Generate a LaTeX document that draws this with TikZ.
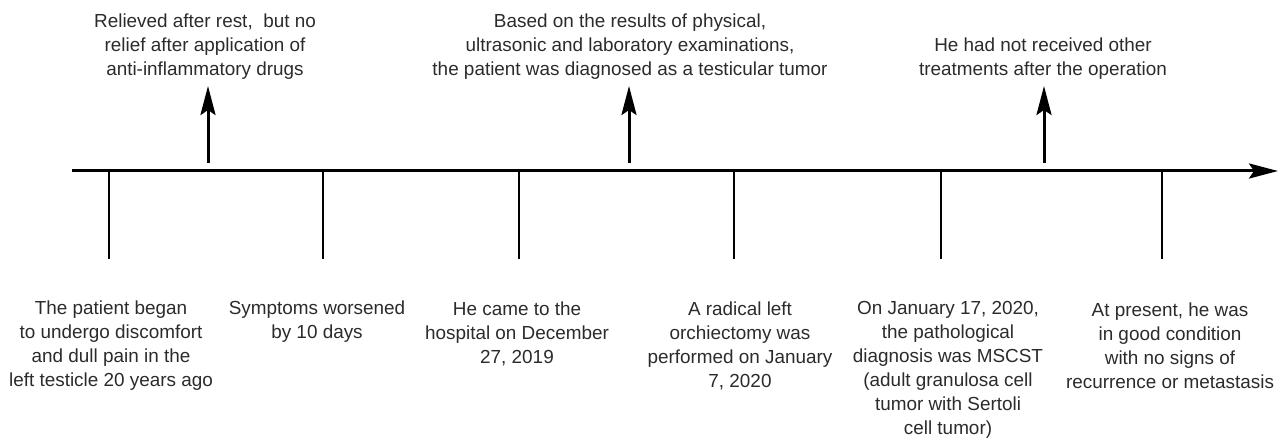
\documentclass[tikz,border=0pt]{standalone}
\usepackage{fontspec}
\setmainfont{Liberation Sans}
\usetikzlibrary{arrows.meta}
\definecolor{txt}{HTML}{2B2B2B}
\tikzset{
  lbl/.style={align=center, text=txt, inner sep=0pt, font=\fontsize{18.9}{24}\selectfont},
  tick/.style={line width=2pt, black},
  uparrow/.style={line width=3pt, black, -{Stealth[length=29pt, width=15pt, inset=5pt]}},
  axis/.style={line width=3pt, black, -{Stealth[length=29pt, width=15pt, inset=5pt]}}
}
\begin{document}
\begin{tikzpicture}[x=1pt, y=-1pt]
\useasboundingbox (0,0) rectangle (1285,438);
% axis
\coordinate (a0) at (72,171);
\coordinate (a1) at (1278,171);
\draw[axis] (a0) -- (a1);
% ticks
\foreach \n/\x in {1/109, 2/323, 3/519, 4/734, 5/941, 6/1162}{
  \coordinate (t\n) at (\x,171);
  \coordinate (b\n) at (\x,259);
  \draw[tick] (t\n) -- (b\n);
}
% up arrows
\foreach \n/\x in {1/208, 2/629, 3/1044}{
  \coordinate (u\n) at (\x,163);
  \coordinate (v\n) at (\x,86);
  \draw[uparrow] (u\n) -- (v\n);
}
% top labels
\node[lbl] (top1) at (205,46.5) {Relieved after rest,\ \ but no\\relief after application of\\anti-inflammatory drugs};
\node[lbl] (top2) at (630,46.5) {Based on the results of physical,\\ultrasonic and laboratory examinations,\\the patient was diagnosed as a testicular tumor};
\node[lbl] (top3) at (1043,58.5) {He had not received other\\treatments after the operation};
% bottom labels
\node[lbl] (bot1) at (111,345.5) {The patient began\\to undergo discomfort\\and dull pain in the\\left testicle 20 years ago};
\node[lbl] (bot2) at (317,321.5) {Symptoms worsened\\by 10 days};
\node[lbl] (bot3) at (517,333.5) {He came to the\\hospital on December\\27, 2019};
\node[lbl] (bot4) at (740,345.5) {A radical left\\orchiectomy was\\performed on January\\7, 2020};
\node[lbl] (bot5) at (948,369.5) {On January 17, 2020,\\the pathological\\diagnosis was MSCST\\(adult granulosa cell\\tumor with Sertoli\\cell tumor)};
\node[lbl] (bot6) at (1170,345.5) {At present, he was\\in good condition\\with no signs of\\recurrence or metastasis};
\end{tikzpicture}
\end{document}
